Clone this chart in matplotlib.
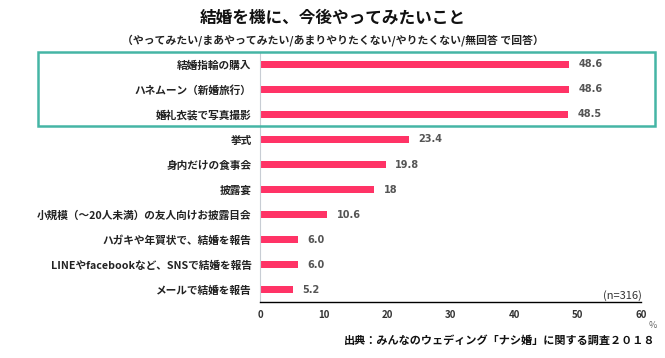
import matplotlib
matplotlib.use("Agg")
import matplotlib.pyplot as plt
from matplotlib.patches import Rectangle

plt.rcParams['font.family'] = ['Noto Sans CJK JP', 'DejaVu Sans']

categories = [
    '結婚指輪の購入',
    'ハネムーン（新婚旅行）',
    '婚礼衣装で写真撮影',
    '挙式',
    '身内だけの食事会',
    '披露宴',
    '小規模（～20人未満）の友人向けお披露目会',
    'ハガキや年賀状で、結婚を報告',
    'LINEやfacebookなど、SNSで結婚を報告',
    'メールで結婚を報告',
]
values = [48.6, 48.6, 48.5, 23.4, 19.8, 18, 10.6, 6.0, 6.0, 5.2]
value_labels = ['48.6', '48.6', '48.5', '23.4', '19.8', '18', '10.6', '6.0', '6.0', '5.2']
xticks = [0, 10, 20, 30, 40, 50, 60]

bar_color = '#FF3366'
box_color = '#45B5A5'

fig = plt.figure(figsize=(6.65, 3.58), dpi=100)
ax = fig.add_axes([0.391, 0.156, 0.573, 0.699])

y = list(range(len(categories)))
ax.barh(y, values, height=0.3, color=bar_color)
ax.set_ylim(len(categories) - 0.5, -0.5)
ax.set_xlim(0, 60)
ax.set_xticks(xticks)
ax.set_xticklabels([str(t) for t in xticks], fontsize=7, fontweight='bold', color='#333333')
ax.set_yticks(y)
ax.set_yticklabels(categories, fontsize=7.7, fontweight='bold', color='#222222')
ax.tick_params(axis='both', length=0)
ax.tick_params(axis='x', pad=6)
ax.tick_params(axis='y', pad=6)

for s in ['top', 'right']:
    ax.spines[s].set_visible(False)
ax.spines['left'].set_color('#C8CDD4')
ax.spines['left'].set_linewidth(0.8)
ax.spines['bottom'].set_color('#000000')
ax.spines['bottom'].set_linewidth(1.0)

for yi, v, lab in zip(y, values, value_labels):
    ax.text(v + 1.5, yi, lab, va='center', ha='left', fontsize=7,
            fontweight='bold', color='#555555', family='DejaVu Sans')

# highlight box around top three
box = Rectangle((38 / 665, 1 - 126 / 358), (655 - 38) / 665, (126 - 52) / 358,
                transform=fig.transFigure, fill=False, edgecolor=box_color,
                linewidth=1.8, clip_on=False)
fig.patches.append(box)

fig.text(0.5, 1 - 17 / 358, '結婚を機に、今後やってみたいこと', ha='center', va='center',
         fontsize=12, fontweight='bold', color='#111111')
fig.text(0.5, 1 - 40 / 358, '（やってみたい/まあやってみたい/あまりやりたくない/やりたくない/無回答 で回答）',
         ha='center', va='center', fontsize=7.8, fontweight='bold', color='#222222')
fig.text(642 / 665, 1 - 296 / 358, '(n=316)', ha='right', va='center', fontsize=8, color='#333333')
fig.text(653 / 665, 1 - 326 / 358, '%', ha='center', va='center', fontsize=6.5, color='#666666')
fig.text(655 / 665, 1 - 340 / 358, '出典：みんなのウェディング「ナシ婚」に関する調査２０１８',
         ha='right', va='center', fontsize=8, fontweight='bold', color='#111111')

fig.savefig('out.png', dpi=100)
